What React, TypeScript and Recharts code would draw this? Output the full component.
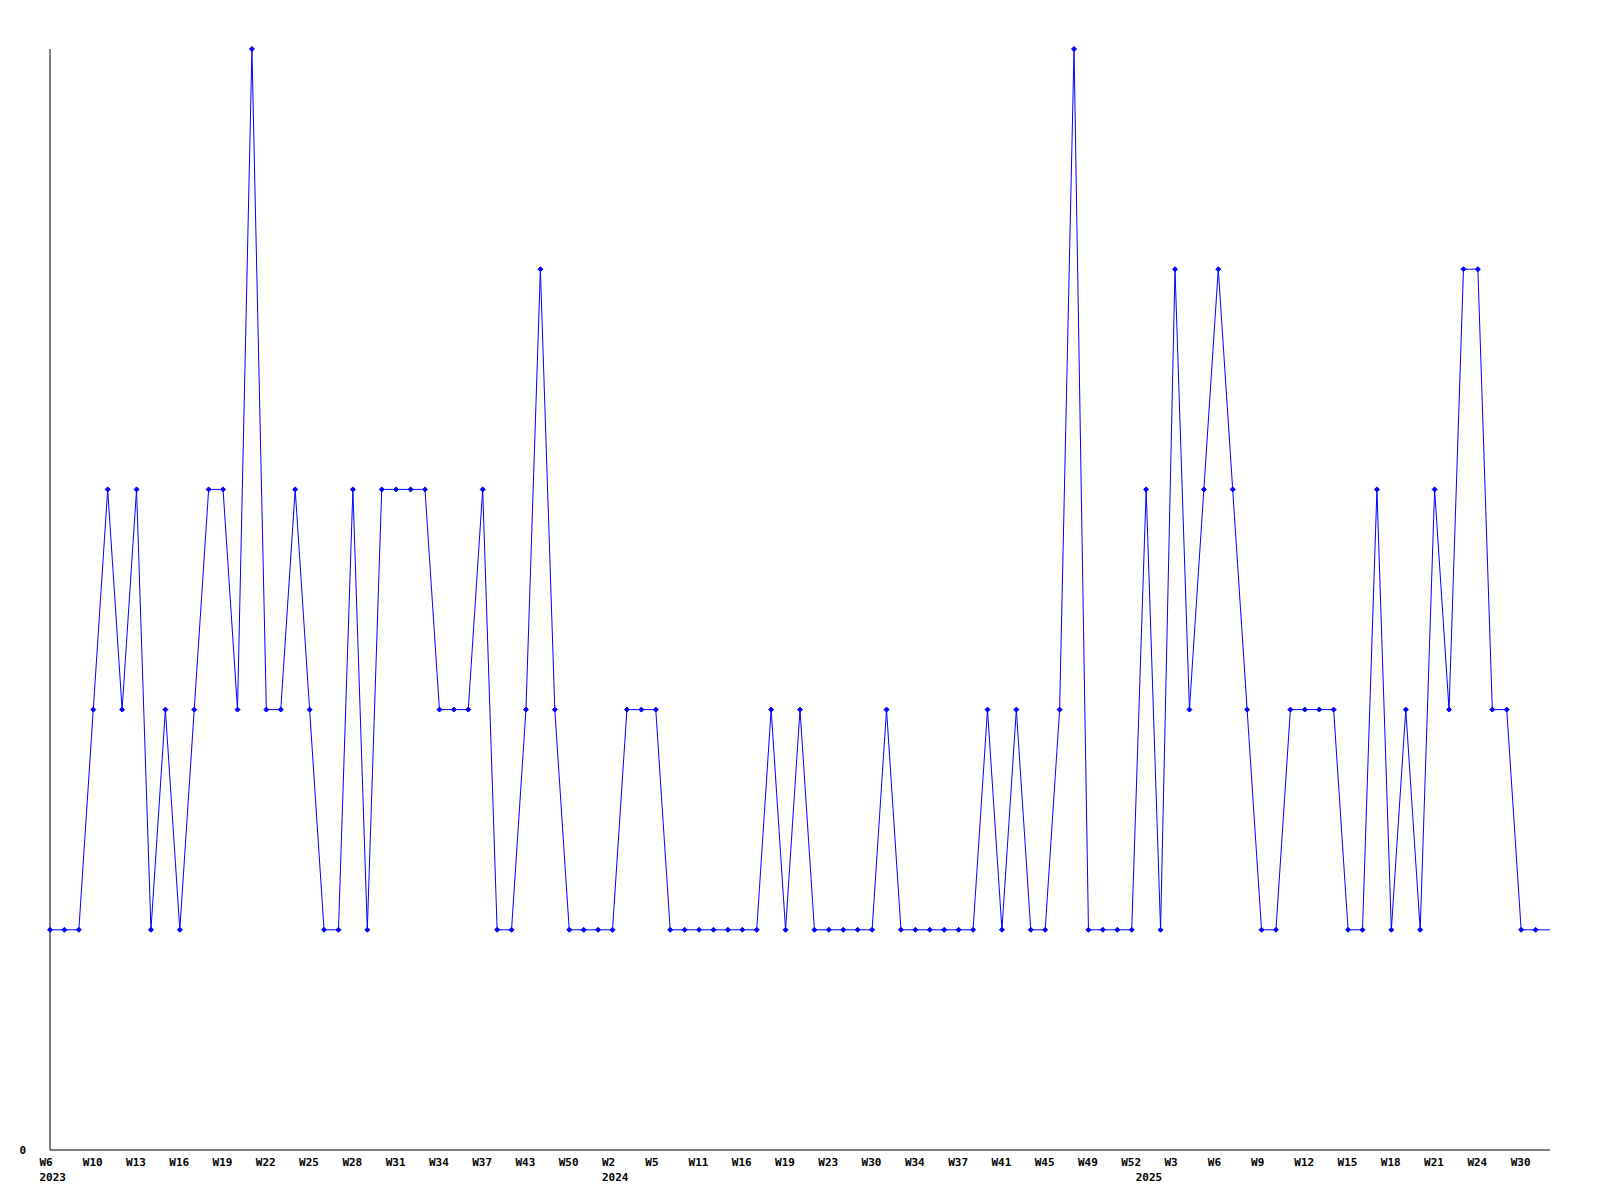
import React from 'react';
import { LineChart, Line, XAxis, YAxis } from 'recharts';

// weeks that have an entry, per year
const weeks2023 = [6, 8, 9, 10, 11, 12, 13, 14, 15, 16, 17, 18, 19, 20, 21, 22, 23, 24, 25, 26, 27, 28, 29, 30, 31, 32, 33, 34, 35, 36, 37, 39, 41, 43, 45, 48, 50, 51, 52];
const weeks2024 = [2, 3, 4, 5, 7, 9, 11, 13, 14, 16, 17, 18, 19, 21, 22, 23, 26, 28, 30, 31, 33, 34, 35, 36, 37, 38, 40, 41, 42, 44, 45, 47, 48, 49, 50, 51, 52];
const weeks2025 = [1, 2, 3, 4, 5, 6, 7, 8, 9, 10, 11, 12, 13, 14, 15, 16, 17, 18, 19, 20, 21, 22, 23, 24, 26, 28, 30, 31, 32];

const values2023 = [1, 1, 1, 2, 3, 2, 3, 1, 2, 1, 2, 3, 3, 2, 5, 2, 2, 3, 2, 1, 1, 3, 1, 3, 3, 3, 3, 2, 2, 2, 3, 1, 1, 2, 4, 2, 1, 1, 1];
const values2024 = [1, 2, 2, 2, 1, 1, 1, 1, 1, 1, 1, 2, 1, 2, 1, 1, 1, 1, 1, 2, 1, 1, 1, 1, 1, 1, 2, 1, 2, 1, 1, 2, 5, 1, 1, 1, 1];
const values2025 = [3, 1, 4, 2, 3, 4, 3, 2, 1, 1, 2, 2, 2, 2, 1, 1, 3, 1, 2, 1, 3, 2, 4, 4, 2, 2, 1, 1, 1];

const years = [
  { year: '2023', weeks: weeks2023, values: values2023 },
  { year: '2024', weeks: weeks2024, values: values2024 },
  { year: '2025', weeks: weeks2025, values: values2025 },
];

const yTicks = [0];
const labelEvery = 3;

const data = years.flatMap(({ year, weeks, values }) =>
  weeks.map((w, i) => ({
    key: `${year}-W${w}`,
    week: `W${w}`,
    year: i === 0 ? year : '',
    value: values[i],
  }))
);

const FONT = '"DejaVu Sans Mono", monospace';

const WeekTick = (props: any) => {
  const { x, payload } = props;
  const idx = payload.index;
  const row = data[idx];
  if (!row) return null;
  const showWeek = idx % labelEvery === 0;
  return (
    <g>
      {showWeek && (
        <text x={x - 10.5} y={1165.5} fontFamily={FONT} fontSize={11} fontWeight="bold" fill="#000">
          {row.week}
        </text>
      )}
      {row.year && (
        <text x={x - 10.5} y={1180.5} fontFamily={FONT} fontSize={11} fontWeight="bold" fill="#000">
          {row.year}
        </text>
      )}
    </g>
  );
};

const ZeroTick = (props: any) => {
  const { y, payload } = props;
  return (
    <text x={19.5} y={y + 3.5} fontFamily={FONT} fontSize={11} fontWeight="bold" fill="#000">
      {payload.value}
    </text>
  );
};

const Marker = (props: any) => {
  const { cx, cy, index } = props;
  if (index === data.length - 1 || cx == null || cy == null) return <g key={`d${index}`} />;
  return (
    <path
      key={`d${index}`}
      d={`M${cx},${cy - 2.5} L${cx + 2.5},${cy} L${cx},${cy + 2.5} L${cx - 2.5},${cy} Z`}
      fill="#0000ff"
      stroke="#0000ff"
      strokeWidth={1}
    />
  );
};

export default function App() {
  return (
    <div style={{ position: 'absolute', left: 0, top: 0, width: 1600, height: 1200, background: '#fff' }}>
      <LineChart width={1600} height={1200} data={data} margin={{ top: 49, right: 50, bottom: 0, left: 0 }}>
        <XAxis
          dataKey="key"
          interval={0}
          height={50}
          tickLine={false}
          axisLine={{ stroke: '#000', strokeWidth: 1 }}
          tick={<WeekTick />}
        />
        <YAxis
          width={50}
          domain={[0, 5]}
          ticks={yTicks}
          tickLine={false}
          axisLine={{ stroke: '#000', strokeWidth: 1 }}
          tick={<ZeroTick />}
        />
        <Line
          type="linear"
          dataKey="value"
          stroke="#0000ff"
          strokeWidth={1}
          dot={<Marker />}
          activeDot={false}
          isAnimationActive={false}
        />
      </LineChart>
    </div>
  );
}
